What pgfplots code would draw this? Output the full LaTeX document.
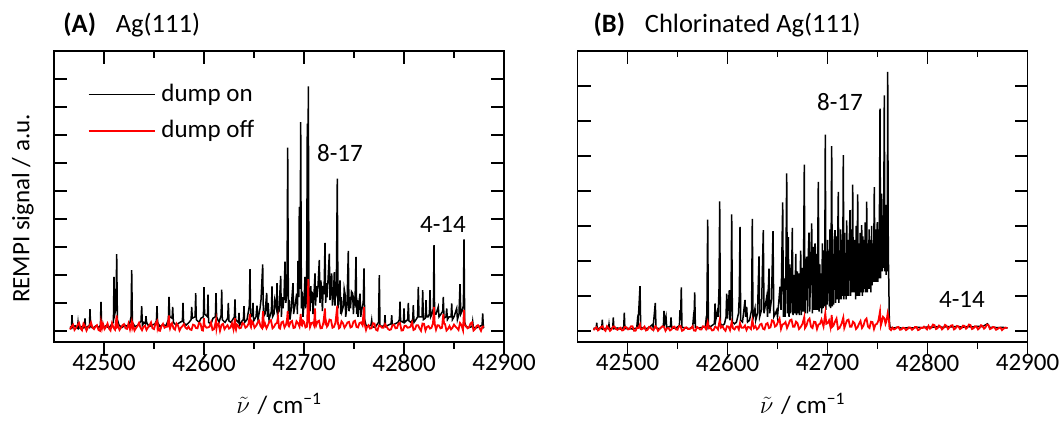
\documentclass[border=0pt]{standalone}
\usepackage{pgfplots}
\pgfplotsset{compat=1.18}
\usepackage{fontspec}
\setmainfont{Carlito}

\pgfplotstableread{
x y
42466 0.15
42467.5 0.1
42468 0.56
42468.6 0.12
42471 0.18
42473.4 0.1
42474 0.30
42474.6 0.08
42477 0.15
42479 0.1
42480.4 0.12
42481 0.44
42481.6 0.1
42484 0.16
42485.4 0.12
42486 0.77
42486.6 0.15
42489 0.1
42492 0.18
42495 0.12
42496.4 0.2
42497 1.03
42497.6 0.25
42499 0.12
42502 0.18
42505 0.1
42508 0.25
42509.4 0.3
42510 1.93
42510.8 0.6
42512 0.8
42512.7 2.74
42513.4 0.4
42515 0.2
42518 0.12
42521 0.2
42524 0.15
42526 0.3
42527 0.5
42527.7 2.17
42528.4 0.3
42531 0.15
42534 0.2
42537 0.35
42537.7 0.88
42538.4 0.2
42540 0.3
42541.4 0.25
42542 0.52
42542.6 0.3
42545 0.15
42548 0.2
42551 0.25
42552.4 0.35
42553 0.88
42553.6 0.3
42556 0.15
42559 0.22
42562 0.18
42564.4 0.4
42565 1.21
42565.8 0.5
42568.1 0.45
42568.7 0.85
42569.4 0.3
42572 0.2
42575 0.28
42578.4 0.35
42579 1.0
42579.6 0.3
42582 0.2
42585 0.3
42587.1 0.4
42587.7 0.85
42588.3 0.45
42591.1 0.5
42591.7 1.35
42592.3 0.4
42595 0.3
42597 0.45
42599.4 0.5
42600 1.56
42600.6 0.6
42603.4 0.5
42604 1.29
42604.6 0.3
42607 0.25
42609 0.45
42611.4 0.5
42612 1.35
42612.6 0.5
42615 0.3
42617.1 0.55
42617.7 1.47
42618.3 0.4
42621 0.3
42623.7 0.45
42624.3 1.0
42625 0.35
42627 0.3
42630.4 0.5
42631 1.12
42631.6 0.4
42634.4 0.3
42635 0.64
42635.6 0.2
42638 0.35
42639.4 0.4
42640 0.88
42640.6 0.3
42643 0.4
42645.4 0.9
42646 2.2
42646.6 0.5
42648.4 0.55
42649 1.0
42649.6 0.35
42652 0.5
42653 0.9
42654 0.4
42656 0.8
42657 1.1
42658.7 2.37
42659.4 0.5
42661 0.6
42662.7 1.35
42663.4 0.5
42664.2 1.0
42665 0.4
42667.4 0.7
42668 1.59
42668.6 0.5
42670 0.6
42670.8 1.1
42672.4 0.8
42673 1.7
42673.6 0.6
42675 0.7
42676.7 1.96
42677.4 0.5
42678.2 1.2
42679 0.8
42680 1.2
42681 2.47
42681.8 1.0
42683 1.4
42683.7 6.55
42684.4 0.6
42685.2 1.1
42686 0.4
42687 0.7
42688 1.2
42689 1.7
42689.6 0.6
42691 0.9
42692.7 1.33
42693.4 0.6
42694 2.5
42694.8 1.2
42695.3 4.43
42696 1.5
42696.7 7.46
42697.4 0.8
42698.2 1.4
42699 0.5
42700 1.0
42701 1.93
42701.6 0.8
42702.6 1.2
42703.3 7.4
42703.8 1.0
42704.3 8.74
42705 1.2
42706 0.7
42706.8 1.6
42707.5 1.0
42708.2 1.4
42709 0.6
42710 1.3
42711 2.05
42711.6 0.9
42712.3 1.6
42713 1.2
42714 1.6
42715.3 2.53
42716 1.0
42716.8 1.8
42717.7 1.47
42718.4 0.7
42719.2 1.6
42720 1.3
42721 3.14
42721.7 1.0
42722.4 1.7
42723 1.2
42724 1.8
42725.3 2.76
42726 1.1
42726.8 1.6
42727.7 2.05
42728.4 0.9
42729.5 1.3
42730.3 2.1
42731 0.9
42731.6 1.5
42732.3 1.4
42733.3 5.44
42734 0.8
42735 1.3
42736 1.8
42736.7 0.6
42737.3 1.2
42738 0.7
42739.5 0.9
42740.2 1.5
42741 1.33
42741.7 0.5
42743 0.9
42744.3 2.86
42745 0.7
42745.8 1.2
42746.5 0.8
42747.5 1.4
42748.7 1.33
42749.4 0.6
42750.2 1.1
42751 1.0
42752 2.64
42752.7 0.6
42753.4 1.1
42754 0.5
42755 1.0
42756 1.33
42756.7 0.5
42758 0.8
42759.2 1.0
42760 2.23
42760.7 0.4
42762 0.2
42764 0.15
42767 0.2
42767.7 0.38
42768.4 0.15
42771 0.12
42774.5 0.3
42775.3 1.99
42776 0.2
42778 0.15
42780.4 0.2
42781 0.56
42781.6 0.15
42784 0.2
42787.1 0.25
42787.7 0.56
42788.3 0.2
42791 0.25
42794 0.3
42795.4 0.4
42796 1.04
42796.6 0.35
42799.4 0.3
42800 0.8
42800.6 0.3
42803.7 0.4
42804.3 1.0
42805 0.35
42807 0.3
42808.7 0.4
42809.3 0.92
42810 0.3
42812 0.4
42813.6 0.5
42814.3 1.57
42815 0.5
42818 0.5
42818.7 1.45
42819.4 0.4
42821.4 0.45
42822 1.1
42822.6 0.5
42824 0.5
42825.4 0.6
42826 1.45
42826.7 0.5
42828 0.6
42829.4 0.8
42830 3.06
42830.6 0.6
42832 0.6
42834.3 0.86
42835 0.5
42837 0.6
42838.7 0.7
42839.3 1.21
42840 0.45
42842 0.5
42842.7 0.8
42843.4 0.4
42845 0.5
42847.1 0.5
42847.7 0.98
42848.4 0.4
42850 0.5
42852.7 0.8
42853.4 0.4
42855 0.6
42856 1.67
42856.8 0.6
42858 0.7
42859.4 0.9
42860 3.27
42860.7 0.3
42862 0.15
42865 0.12
42868.1 0.15
42868.7 0.33
42869.4 0.12
42872 0.1
42875 0.15
42878.1 0.2
42878.7 0.62
42879.4 0.12
42880 0.1
}\onA

\pgfplotstableread{
x y
42466 0.05
42467.5 0.15
42469 0.22
42470.5 0.03
42472 0.10
42473.5 0.20
42475 0.28
42476.5 0.09
42478 0.02
42479.5 0.26
42481 0.18
42482.5 0.01
42484 0.12
42485.5 0.17
42487 0.30
42488.5 0.11
42490 0.06
42491.5 0.15
42493 0.20
42494.5 0.03
42496 0.00
42497 0.32
42498 0.09
42499 0.25
42500.5 0.06
42502 0.14
42503.5 0.26
42505 0.08
42506.5 0.01
42508 0.27
42509.5 0.11
42511 0.04
42512.7 0.55
42513.3 0.15
42514 0.19
42515.5 0.03
42517 0.11
42518.5 0.20
42520 0.24
42521.5 0.09
42523 0.07
42524.5 0.26
42526 0.05
42527.7 0.32
42528.3 0.12
42529 0.22
42530.5 0.01
42532 0.10
42533.5 0.17
42535 0.28
42536.5 0.11
42538 0.02
42539.5 0.15
42541 0.18
42542.5 0.03
42544 0.12
42545.5 0.20
42547 0.30
42548.5 0.09
42550 0.06
42551.5 0.26
42553 0.35
42553.5 0.12
42554 0.20
42555 0.01
42556 0.00
42557.5 0.17
42559 0.25
42560.5 0.11
42562 0.14
42563.5 0.15
42565 0.55
42565.5 0.16
42566 0.08
42567 0.20
42568 0.27
42569.5 0.09
42571 0.04
42572.5 0.26
42574 0.19
42575.5 0.01
42577 0.11
42578.5 0.17
42580 0.24
42581.5 0.11
42583 0.07
42584.5 0.15
42586 0.05
42587.5 0.03
42589 0.22
42590.5 0.20
42592 0.10
42593.5 0.09
42595 0.28
42596.5 0.26
42598 0.02
42599 0.01
42600 0.45
42600.5 0.17
42601 0.18
42602.5 0.11
42604 0.12
42605.5 0.15
42607 0.30
42608.5 0.03
42610 0.06
42611 0.20
42612 0.38
42612.5 0.09
42613 0.20
42614.5 0.26
42616 0.00
42617.5 0.21
42619 0.25
42620.5 0.06
42622 0.14
42623.5 0.20
42625 0.08
42626.5 0.12
42628 0.27
42629.5 0.05
42631 0.45
42631.5 0.10
42632 0.04
42633 0.22
42634 0.19
42635.5 0.09
42637 0.11
42638.5 0.28
42640 0.24
42641.5 0.11
42643 0.15
42644.5 0.25
42646 0.60
42646.5 0.17
42647 0.13
42648 0.34
42649 0.30
42650.5 0.11
42652 0.18
42653.5 0.28
42655 0.36
42656.5 0.17
42658 0.10
42659 0.70
42660 0.19
42661 0.26
42662.5 0.09
42664 0.20
42665.5 0.34
42667 0.38
42668.5 0.09
42670 0.14
42671.5 0.25
42673 0.28
42674 0.50
42675 0.11
42676 0.08
42677.5 0.30
42679 0.33
42680.5 0.12
42682 0.22
42683 0.40
42683.7 0.70
42684.3 0.20
42685 0.16
42686.5 0.31
42688 0.35
42689.5 0.10
42691 0.12
42692.5 0.34
42694 0.27
42695.5 0.15
42696.7 0.60
42697.3 0.22
42698 0.19
42699 0.36
42700 0.32
42701.5 0.12
42703 0.15
42703.7 0.9
42704.3 1.85
42705 0.40
42706 0.13
42707.5 0.28
42709 0.30
42710 0.20
42711 0.80
42711.5 0.25
42712 0.18
42713.5 0.33
42715 0.36
42716.5 0.09
42718 0.10
42719.5 0.31
42721 0.80
42721.5 0.20
42722 0.34
42723 0.15
42724 0.20
42725.5 0.40
42727 0.38
42728.5 0.11
42730 0.14
42731.5 0.30
42733.3 0.90
42733.8 0.22
42734 0.28
42735 0.09
42736 0.12
42737.5 0.34
42739 0.27
42740.5 0.11
42742 0.19
42743.5 0.30
42745 0.32
42746.5 0.12
42748 0.15
42749.5 0.33
42751 0.36
42752.5 0.14
42754 0.12
42755.5 0.28
42757 0.30
42758.5 0.20
42760 0.85
42760.5 0.25
42761 0.18
42762 0.03
42763 0.14
42764.5 0.20
42766 0.08
42767.5 0.09
42769 0.27
42770.5 0.26
42772 0.04
42773.5 0.01
42775 0.19
42776.5 0.17
42778 0.11
42779.5 0.11
42781 0.24
42782.5 0.15
42784 0.07
42785.5 0.03
42787 0.05
42788.5 0.20
42790 0.22
42791.5 0.09
42793 0.10
42794.5 0.26
42796 0.28
42797.5 0.01
42799 0.02
42800.5 0.17
42802 0.18
42803.5 0.11
42805 0.12
42806.5 0.15
42808 0.30
42809.5 0.03
42811 0.06
42812.5 0.20
42814 0.20
42815.5 0.09
42817 0.00
42818.5 0.26
42820 0.25
42821.5 0.01
42823 0.14
42824.5 0.17
42826 0.08
42827.5 0.11
42829 0.27
42830 0.85
42830.7 0.25
42832 0.04
42833.5 0.20
42835 0.19
42836.5 0.09
42838 0.11
42839.3 0.60
42840 0.26
42841 0.24
42842.5 0.01
42844 0.07
42845.5 0.17
42847 0.05
42848.5 0.11
42850 0.22
42851.5 0.15
42853 0.10
42854.5 0.03
42856 0.28
42857.5 0.20
42859 0.02
42860 0.75
42860.6 0.20
42862 0.18
42863.5 0.09
42865 0.12
42866.5 0.26
42868 0.30
42869.5 0.01
42871 0.06
42872.5 0.17
42874 0.20
42875.5 0.11
42877 0.00
42878.5 0.15
42880 0.15
}\offA

\pgfplotstableread{
x y
42466 0.08
42468.6 0.06
42469.2 0.23
42469.8 0.05
42472 0.08
42474.2 0.06
42474.8 0.32
42475.4 0.05
42478 0.07
42480.9 0.06
42481.5 0.19
42482.1 0.05
42485.2 0.08
42485.8 0.38
42486.4 0.06
42490 0.08
42493 0.05
42496.2 0.1
42496.8 0.52
42497.4 0.06
42501 0.07
42505 0.05
42509.2 0.08
42509.8 0.26
42510.4 0.1
42512.5 1.28
42513.2 0.1
42517 0.06
42521 0.08
42525 0.18
42525.6 0.1
42527.8 0.8
42528.5 0.08
42532 0.06
42535.9 0.15
42536.5 0.57
42537.2 0.2
42538.5 0.4
42539.2 0.1
42542.9 0.12
42543.5 0.38
42544.2 0.08
42548 0.07
42551.9 0.15
42552.5 0.59
42553 0.3
42553.8 1.24
42554.5 0.1
42558 0.08
42562 0.06
42565.2 0.12
42565.8 0.33
42566.4 0.2
42567.2 1.1
42567.9 0.1
42571 0.08
42575 0.1
42577.9 0.12
42578.5 0.3
42579.3 0.2
42580.2 3.18
42580.9 0.15
42583 0.12
42586.9 0.2
42587.5 0.78
42588.2 0.3
42589.8 0.54
42590.6 0.4
42591.5 1.2
42592.2 3.7
42592.9 0.2
42595 0.15
42597 0.2
42598.5 0.4
42599.2 1.06
42600 0.35
42601.8 1.16
42602.5 0.3
42603.5 0.8
42604.2 3.33
42604.9 0.25
42607 0.2
42609 0.25
42611 0.5
42611.8 1.0
42612.5 2.97
42613.2 0.3
42615 0.25
42617.5 0.88
42618.2 0.4
42619.2 0.68
42620 0.25
42622 0.3
42624.1 0.6
42624.8 3.2
42625.5 0.35
42627.5 0.64
42628.2 0.3
42630 0.5
42631.5 2.13
42632.2 0.4
42634 0.6
42635.8 2.88
42636.5 0.5
42639.2 0.97
42640 0.4
42641.5 1.78
42642.2 0.5
42644 0.9
42645.5 2.85
42646.3 0.4
42648 0.5
42649.2 0.59
42650 0.4
42651.5 0.9
42652.5 1.26
42653.5 0.6
42655.2 3.67
42655.9 0.4
42656.8 1.5
42657.5 0.4
42658.4 1.8
42659.2 4.5
42659.9 0.5
42660.8 2.68
42661.5 0.4
42662.4 1.9
42663.2 0.5
42664 1.3
42664.8 2.94
42665.5 0.45
42666.4 1.6
42667.2 0.5
42668.3 2.2
42669 0.45
42669.9 1.7
42670.6 0.5
42671.2 1.64
42671.9 0.45
42673.2 2.29
42673.9 0.45
42674.8 1.8
42675.7 0.55
42676.8 4.75
42677.5 0.5
42678.4 1.9
42679.2 2.12
42679.9 0.5
42680.6 2.0
42681.5 2.81
42682.2 0.55
42683.1 1.8
42684.2 3.07
42684.9 0.5
42685.8 2.4
42686.6 0.6
42687.5 2.5
42688.3 0.6
42689 2.2
42689.7 0.6
42690.8 4.26
42691.5 0.55
42692.3 1.9
42693 0.65
42693.5 1.64
42694.2 0.5
42694.9 2.5
42695.6 0.65
42696.4 2.3
42697.1 0.7
42697.8 5.61
42698.4 0.6
42699 2.1
42699.5 0.75
42700.1 2.6
42700.8 1.07
42701.3 2.0
42701.8 0.7
42702.4 2.9
42703 0.65
42703.6 2.4
42704.2 5.28
42704.8 0.7
42705.4 2.2
42706 0.75
42706.7 2.6
42707.5 2.88
42708.1 0.8
42708.8 2.7
42709.5 0.9
42710.1 2.4
42710.8 3.97
42711.4 0.8
42712 2.3
42712.6 0.9
42713.2 2.9
42713.8 0.9
42714.4 2.6
42715.1 1.0
42715.8 5.02
42716.4 0.9
42717 2.8
42717.6 1.0
42718.2 2.2
42718.7 0.9
42719.2 3.16
42719.8 1.0
42720.4 2.6
42721 1.0
42721.7 2.4
42722.5 3.45
42723.1 1.0
42723.7 2.9
42724.3 1.1
42725.2 4.18
42725.8 1.1
42726.4 2.6
42727 1.1
42727.5 2.6
42728.1 0.9
42728.7 3.0
42729.4 1.0
42730.2 3.9
42730.8 1.0
42731.4 2.5
42732 1.0
42732.6 2.8
42733.3 1.1
42734.2 3.02
42734.8 1.0
42735.4 2.7
42736 1.1
42736.5 2.6
42737.1 1.2
42737.7 3.1
42738.4 1.1
42739.2 3.69
42739.8 1.1
42740.4 2.5
42741 1.2
42741.6 2.9
42742.2 1.2
42742.8 2.6
42743.4 1.1
42744.1 3.0
42744.7 1.3
42745.3 2.5
42746 1.4
42746.8 4.11
42747.4 1.4
42748 2.9
42748.6 1.4
42749.2 2.6
42749.8 3.11
42750.4 1.4
42751 2.9
42751.6 1.5
42752.5 6.35
42753.1 1.5
42753.6 2.9
42754.2 3.92
42754.8 1.7
42755.4 3.3
42756 1.8
42756.8 6.73
42757.4 1.7
42758 3.6
42758.6 1.6
42759.2 3.2
42759.7 1.7
42760.2 7.4
42760.8 2.2
42761.3 1.4
42761.8 0.3
42762.5 0.1
42766 0.08
42770 0.1
42775 0.07
42780 0.09
42785 0.08
42790 0.1
42795 0.09
42800 0.11
42805 0.1
42810 0.12
42815 0.1
42820 0.12
42825 0.11
42830 0.13
42835 0.1
42840 0.12
42845 0.11
42850 0.13
42855 0.12
42860 0.2
42862 0.1
42866 0.1
42870 0.09
42875 0.1
42880 0.08
}\onB

\pgfplotstableread{
x y
42466 0.02
42467.5 0.07
42469 0.10
42470.5 0.01
42472 0.05
42473.5 0.11
42475 0.13
42476.5 0.04
42478 0.00
42479.5 0.13
42481 0.08
42482.5 0.00
42484 0.04
42485.5 0.12
42487 0.12
42488.5 0.05
42490 0.03
42491.5 0.07
42493 0.09
42494.5 0.01
42496 0.02
42497 0.11
42499 0.10
42500.5 0.04
42502 0.05
42503.5 0.13
42505 0.13
42506.5 0.00
42508 0.00
42509.5 0.09
42511 0.08
42512.5 0.18
42513.3 0.05
42514 0.04
42515.5 0.07
42517 0.12
42518.5 0.01
42520 0.03
42521.5 0.11
42523 0.09
42524.5 0.04
42526 0.02
42527.8 0.13
42529 0.10
42530.5 0.00
42532 0.05
42533.5 0.09
42535 0.13
42536.5 0.11
42538 0.00
42539.5 0.07
42541 0.08
42542.5 0.01
42544 0.04
42545.5 0.11
42547 0.12
42548.5 0.04
42550 0.03
42551.5 0.13
42553 0.14
42554.5 0.00
42556 0.02
42557.5 0.09
42559 0.10
42560.5 0.05
42562 0.05
42563.5 0.07
42565 0.13
42566.5 0.01
42568 0.00
42569.5 0.11
42571 0.08
42572.5 0.04
42574 0.04
42575.5 0.13
42577 0.12
42578.5 0.05
42580.2 0.25
42581.5 0.07
42583 0.09
42584.5 0.01
42586 0.02
42587.5 0.11
42589 0.10
42590.5 0.04
42592.2 0.30
42593.5 0.09
42595 0.13
42596.5 0.05
42598 0.00
42599.5 0.13
42601 0.12
42602.5 0.02
42604.2 0.25
42605.5 0.07
42607 0.04
42608.5 0.11
42610 0.12
42611.3 0.04
42612.5 0.22
42614 0.09
42616 0.09
42617.5 0.15
42619 0.02
42620.5 0.11
42622 0.10
42623.5 0.05
42624.8 0.30
42626.5 0.08
42628 0.13
42629.5 0.04
42631 0.08
42632.5 0.18
42634 0.20
42635.5 0.06
42637 0.04
42638.5 0.19
42640 0.22
42641.5 0.08
42643 0.10
42644.5 0.30
42646 0.28
42647.5 0.12
42649 0.15
42650.5 0.26
42652 0.35
42653.5 0.05
42655 0.18
42656.5 0.20
42658 0.25
42659.5 0.08
42661 0.18
42662.5 0.30
42664 0.32
42665.5 0.12
42667 0.12
42668.5 0.26
42670 0.22
42671.5 0.05
42673 0.10
42675 0.20
42676.8 0.40
42677.5 0.08
42679 0.15
42680.5 0.30
42682 0.35
42683.5 0.12
42685 0.08
42686.5 0.26
42688 0.25
42689.5 0.05
42691 0.18
42692.5 0.20
42694 0.32
42696 0.12
42697.8 0.50
42698.8 0.20
42700 0.22
42701.5 0.30
42703 0.10
42704.2 0.45
42705 0.12
42706 0.15
42707.5 0.26
42709 0.35
42710.5 0.05
42712 0.08
42714 0.20
42715.8 0.38
42716.8 0.08
42718 0.18
42719.5 0.30
42721 0.32
42722.5 0.12
42724 0.12
42725.5 0.26
42727 0.22
42728.5 0.05
42730 0.10
42731.5 0.20
42733 0.28
42734.5 0.08
42736 0.15
42737.5 0.30
42739 0.35
42740.5 0.12
42742 0.08
42743.5 0.26
42745 0.25
42746.5 0.05
42748 0.18
42749.5 0.20
42751 0.30
42752.5 0.55
42753.3 0.15
42754 0.22
42755.5 0.40
42757 0.35
42758 0.20
42759 0.28
42760.2 0.50
42761.5 0.30
42762 0.06
42763.5 0.02
42765 0.09
42766.5 0.04
42768 0.06
42769.5 0.10
42771 0.11
42772.5 0.03
42774 0.04
42775.5 0.09
42777 0.08
42778.5 0.02
42780 0.05
42781.5 0.10
42783 0.09
42784.5 0.03
42786 0.06
42787.5 0.11
42789 0.11
42790.5 0.02
42792 0.04
42793.5 0.09
42795 0.08
42796.5 0.12
42798 0.08
42799.5 0.04
42801 0.14
42802.5 0.06
42804 0.10
42805.5 0.18
42807 0.16
42808.5 0.05
42810 0.07
42811.5 0.15
42813 0.12
42814.5 0.04
42816 0.08
42817.5 0.17
42819 0.14
42820.5 0.05
42822 0.10
42823.5 0.15
42825 0.16
42826.5 0.04
42828 0.07
42829.5 0.14
42831 0.12
42832.5 0.05
42834 0.08
42835.5 0.15
42837 0.14
42838.5 0.06
42840 0.10
42841.5 0.18
42843 0.16
42844.5 0.05
42846 0.07
42847.5 0.13
42849 0.12
42850.5 0.04
42852 0.08
42853.5 0.16
42855 0.14
42856.5 0.06
42858 0.10
42859.5 0.18
42861 0.16
42862.5 0.05
42864 0.07
42865.5 0.11
42867 0.10
42868.5 0.03
42870 0.05
42871.5 0.09
42873 0.09
42874.5 0.02
42876 0.06
42878 0.09
42880 0.08
}\offB

\pgfplotsset{
  frameaxis/.style={
    scale only axis, width=450pt, height=291pt,
    xmin=42450, xmax=42900,
    scaled x ticks=false,
    xtick={42500,42600,42700,42800,42900},
    minor x tick num=1,
    xticklabels={}, yticklabels={},
    tick align=inside,
    xtick pos=right, ytick pos=both,
    major tick length=13pt, minor tick length=6.5pt,
    every tick/.append style={line width=1.4pt, black},
    axis line style={line width=1.5pt},
    clip mode=individual,
    font=\fontsize{25}{30}\selectfont,
  },
  bottomaxis/.style={
    scale only axis, width=450pt, height=291pt,
    xmin=42450, xmax=42900, ymin=0, ymax=1,
    scaled x ticks=false,
    axis x line*=bottom, axis y line=none,
    xtick={42500,42600,42700,42800,42900},
    xticklabels={42500,42600,42700,42800,42900},
    minor x tick num=1,
    tick align=outside,
    major tick length=13pt, minor tick length=6.5pt,
    every tick/.append style={line width=1.4pt, black},
    axis line style={line width=1.5pt},
    tick label style={font=\fontsize{25}{30}\selectfont},
    xticklabel style={yshift=9pt},
    xlabel={$\tilde{\nu}$\hspace{0.3em}/ cm\textsuperscript{−1}},
    xlabel style={font=\fontsize{25}{30}\selectfont, at={(axis description cs:0.5,-0.245)}, anchor=base, inner sep=1pt},
  },
}

\begin{document}
\fontsize{25}{30}\selectfont
\begin{tikzpicture}
\useasboundingbox (-54pt,-82pt) rectangle (1007pt,342pt);

% ---------- Panel A ----------
\begin{axis}[frameaxis, at={(0pt,0pt)}, anchor=south west,
  ymin=-0.40, ymax=10, ytick={0,1,...,10},
  ylabel={REMPI signal / a.u.},
  every axis y label/.style={at={(rel axis cs:-0.069,0.459)}, rotate=90, anchor=center},
  legend style={draw=none, fill=none, at={(rel axis cs:0.075,0.897)}, anchor=north west,
    row sep=9pt, inner sep=0pt, font=\fontsize{25}{30}\selectfont,
    nodes={inner sep=3pt}},
  legend cell align=left,
  legend image code/.code={\draw[#1, line width=1.5pt] (0pt,0pt) -- (66pt,0pt);},
]
\addplot[black, line width=1.5pt, no marks] table[x=x,y=y] {\onA};
\addlegendentry{\hspace{3pt}dump on}
\addplot[red, line width=1.8pt, no marks] table[x=x,y=y] {\offA};
\addlegendentry{\hspace{3pt}dump off}
\node at (axis cs:42736,6.35) {8-17};
\node at (axis cs:42839,3.81) {4-14};
\node[anchor=base west, font=\fontsize{26.5}{30}\selectfont] at (rel axis cs:0.002,1.064) {\textbf{(A)}\hspace{0.75em}Ag(111)};
\end{axis}
\begin{axis}[bottomaxis, at={(0pt,0pt)}, anchor=south west]
\end{axis}

% ---------- Panel B ----------
\begin{axis}[frameaxis, at={(523.5pt,0pt)}, anchor=south west,
  ymin=-0.32, ymax=8, ytick={0,1,...,8}]
\addplot[black, line width=1.5pt, no marks] table[x=x,y=y] {\onB};
\addplot[red, line width=1.8pt, no marks] table[x=x,y=y] {\offB};
\node at (axis cs:42712.5,6.53) {8-17};
\node at (axis cs:42834.5,0.91) {4-14};
\node[anchor=base west, font=\fontsize{26.5}{30}\selectfont] at (rel axis cs:0.017,1.064) {\textbf{(B)}\hspace{0.75em}Chlorinated Ag(111)};
\end{axis}
\begin{axis}[bottomaxis, at={(523.5pt,0pt)}, anchor=south west]
\end{axis}
\end{tikzpicture}
\end{document}
